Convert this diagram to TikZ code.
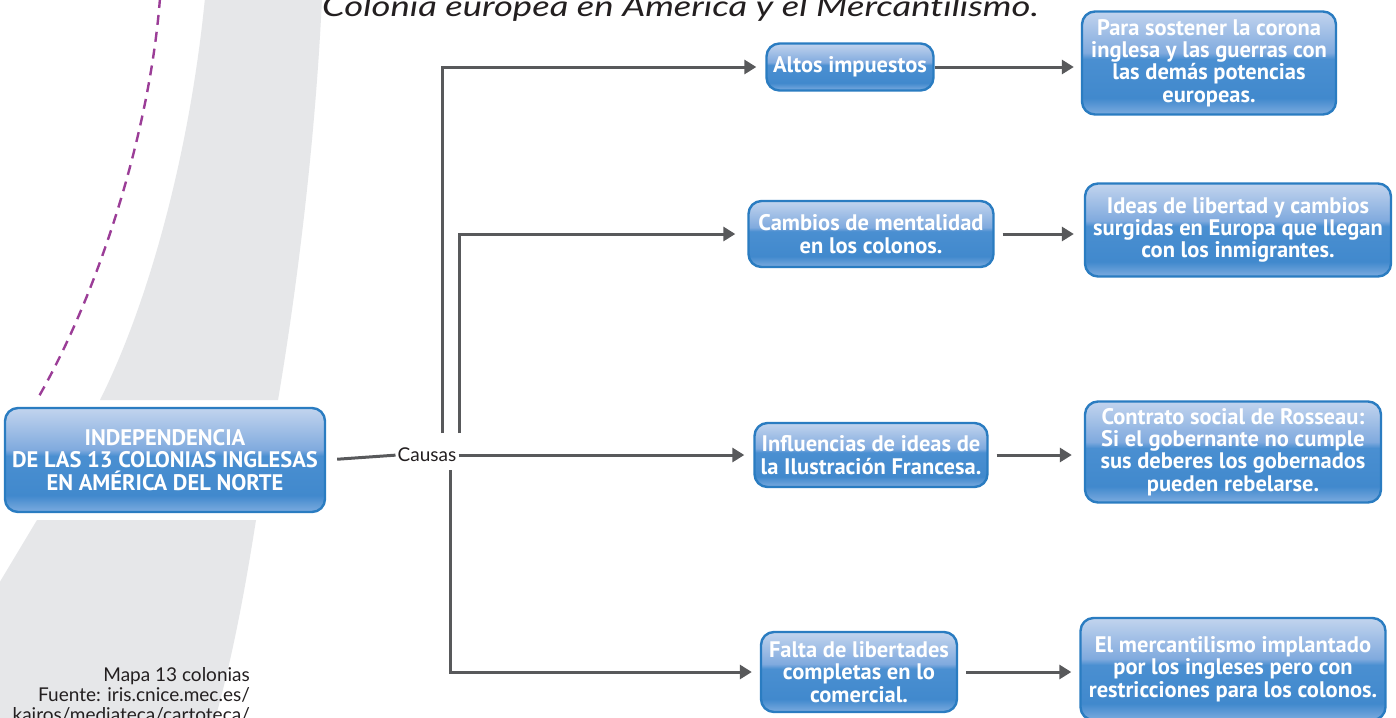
\documentclass[tikz,border=0pt]{standalone}
\usepackage{fontspec}
\usetikzlibrary{arrows.meta}
\setmainfont{Lato}
\newfontfamily\boxfont{PT Sans}
\newfontfamily\lightfont{Lato}
\newfontfamily\titlefont{Lato}[FakeStretch=1.28,Ligatures=NoCommon]
\definecolor{bandgray}{HTML}{E6E7E9}
\definecolor{dashpurple}{HTML}{9B3D97}
\definecolor{lineGray}{HTML}{58595B}
\definecolor{boxborder}{HTML}{2A7CC1}
\definecolor{sB}{HTML}{7CABDF}
\definecolor{sM}{HTML}{4189CD}
\definecolor{sMM}{HTML}{4A8FD1}
\definecolor{sG}{HTML}{80AADE}
\definecolor{sT}{HTML}{C2D4EE}
\definecolor{textdark}{HTML}{231F20}
\pgfdeclareverticalshading{glossy}{100bp}{color(0bp)=(sB); color(25bp)=(sB); color(33bp)=(sM); color(52bp)=(sMM); color(55bp)=(sG); color(75bp)=(sT); color(100bp)=(sT)}
\tikzset{
  bluebox/.style={rounded corners=13pt, draw=boxborder, line width=2.4pt, shading=glossy,
    text=white, align=center, inner sep=0pt,
    font=\boxfont\bfseries\fontsize{22.5}{22.3}\selectfont},
  conn/.style={draw=lineGray, line width=3pt},
  arr/.style={conn, -{Triangle[length=12pt,width=14pt]}},
  plain/.style={text=textdark, inner sep=0pt}
}
\begin{document}
\begin{tikzpicture}[x=1pt,y=-1pt]
\useasboundingbox (0,0) rectangle (1396,717);
\clip (0,0) rectangle (1396,717);
\fill[white] (0,0) rectangle (1396,717);
% grey band
\fill[bandgray] (205,-2) .. controls (190,150) and (150,300) .. (100,400)
  -- (278,400) .. controls (295,300) and (315,150) .. (322,-2) -- cycle;
\fill[bandgray] (37,520) -- (256,520) .. controls (245,590) and (232,660) .. (215,719)
  -- (-2,719) -- (-2,585) -- cycle;
% dashed purple line
\draw[dashpurple, line width=2.4pt, dash pattern=on 10pt off 7pt]
  (160,-2) .. controls (150,130) and (100,290) .. (38,398);
% title
\node[plain, anchor=base west, font=\titlefont\itshape\fontsize{28.5}{30}\selectfont] (title) at (322,17) {Colonia europea en América y el Mercantilismo.};
% source text
\node[plain, anchor=north east, align=right, font=\lightfont\fontsize{19}{20}\selectfont] (src) at (250,667)
  {Mapa 13 colonias\\Fuente: iris.cnice.mec.es/\\kairos/mediateca/cartoteca/};
% boxes
\node[bluebox, minimum width=320pt, minimum height=104pt, font=\boxfont\bfseries\fontsize{22.5}{22.8}\selectfont] (main) at (165,460)
  {INDEPENDENCIA\\DE LAS 13 COLONIAS INGLESAS\\EN AMÉRICA DEL NORTE};
\node[bluebox, minimum width=167pt, minimum height=47pt] (altos) at (850,67) {Altos impuestos};
\node[bluebox, minimum width=254pt, minimum height=103pt] (para) at (1209,63)
  {Para sostener la corona\\inglesa y las guerras con\\las demás potencias\\europeas.};
\node[bluebox, minimum width=245pt, minimum height=66pt] (cambios) at (871,234)
  {Cambios de mentalidad\\en los colonos.};
\node[bluebox, minimum width=306pt, minimum height=93pt] (ideas) at (1238,230)
  {Ideas de libertad y cambios\\surgidas en Europa que llegan\\con los inmigrantes.};
\node[bluebox, minimum width=233pt, minimum height=64pt] (influ) at (871,455)
  {Influencias de ideas de\\la Ilustración Francesa.};
\node[bluebox, minimum width=296pt, minimum height=101pt] (contrato) at (1233,452)
  {Contrato social de Rosseau:\\Si el gobernante no cumple\\sus deberes los gobernados\\pueden rebelarse.};
\node[bluebox, minimum width=196pt, minimum height=80pt] (falta) at (859,672)
  {Falta de libertades\\completas en lo\\comercial.};
\node[bluebox, minimum width=305pt, minimum height=102pt] (merc) at (1233,669)
  {El mercantilismo implantado\\por los ingleses pero con\\restricciones para los colonos.};
% Causas
\node[plain, font=\lightfont\fontsize{19}{20}\selectfont] (causas) at (427,455) {Causas};
\coordinate (c1) at (442,433);
\coordinate (c2) at (459,433);
\coordinate (c3) at (450,470);
% connectors
\draw[conn, shorten <=11pt, shorten >=2pt] (main.east) -- (causas.west);
\draw[arr, shorten >=9pt] (c1) |- (altos.west);
\draw[arr, shorten >=12pt] (c2) |- (cambios.west);
\draw[arr, shorten <=2pt, shorten >=9pt] (causas.east) -- (influ.west);
\draw[arr, shorten >=8pt] (c3) |- (falta.west);
\draw[arr, shorten >=7pt] (altos.east) -- (para.west |- altos.east);
\draw[arr, shorten <=8pt, shorten >=10pt] (cambios.east) -- (ideas.west |- cambios.east);
\draw[arr, shorten <=8pt, shorten >=12pt] (influ.east) -- (contrato.west |- influ.east);
\draw[arr, shorten <=8pt, shorten >=8pt] (falta.east) -- (merc.west |- falta.east);
\end{tikzpicture}
\end{document}
